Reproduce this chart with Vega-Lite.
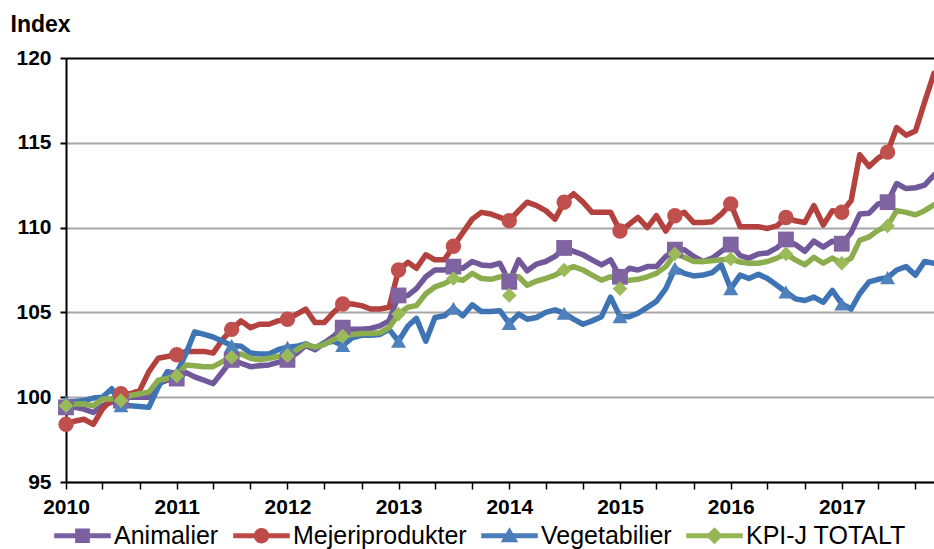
{
  "$schema": "https://vega.github.io/schema/vega-lite/v6.json",
  "width": 868,
  "height": 424,
  "autosize": {"type": "none"},
  "padding": {"left": 66, "top": 58, "right": 0, "bottom": 67},
  "background": "white",
  "config": {"view": {"stroke": null}, "font": "Liberation Sans"},
  "datasets": {
    "lines": [
      {"date":"2010/01/01","series":"Animalier","value":99.4},{"date":"2010/02/01","series":"Animalier","value":99.4},{"date":"2010/03/01","series":"Animalier","value":99.3},{"date":"2010/04/01","series":"Animalier","value":99.1},{"date":"2010/05/01","series":"Animalier","value":99.5},{"date":"2010/06/01","series":"Animalier","value":99.7},{"date":"2010/07/01","series":"Animalier","value":99.8},{"date":"2010/08/01","series":"Animalier","value":100.0},{"date":"2010/09/01","series":"Animalier","value":100.0},{"date":"2010/10/01","series":"Animalier","value":100.0},{"date":"2010/11/01","series":"Animalier","value":100.8},{"date":"2010/12/01","series":"Animalier","value":101.0},
      {"date":"2011/01/01","series":"Animalier","value":101.1},{"date":"2011/02/01","series":"Animalier","value":101.45},{"date":"2011/03/01","series":"Animalier","value":101.2},{"date":"2011/04/01","series":"Animalier","value":101.0},{"date":"2011/05/01","series":"Animalier","value":100.8},{"date":"2011/06/01","series":"Animalier","value":101.5},{"date":"2011/07/01","series":"Animalier","value":102.2},{"date":"2011/08/01","series":"Animalier","value":102.0},{"date":"2011/09/01","series":"Animalier","value":101.8},{"date":"2011/10/01","series":"Animalier","value":101.85},{"date":"2011/11/01","series":"Animalier","value":101.9},{"date":"2011/12/01","series":"Animalier","value":102.05},
      {"date":"2012/01/01","series":"Animalier","value":102.2},{"date":"2012/02/01","series":"Animalier","value":102.6},{"date":"2012/03/01","series":"Animalier","value":103.05},{"date":"2012/04/01","series":"Animalier","value":102.8},{"date":"2012/05/01","series":"Animalier","value":103.2},{"date":"2012/06/01","series":"Animalier","value":103.6},{"date":"2012/07/01","series":"Animalier","value":104.1},{"date":"2012/08/01","series":"Animalier","value":104.0},{"date":"2012/09/01","series":"Animalier","value":104.0},{"date":"2012/10/01","series":"Animalier","value":104.05},{"date":"2012/11/01","series":"Animalier","value":104.2},{"date":"2012/12/01","series":"Animalier","value":104.5},
      {"date":"2013/01/01","series":"Animalier","value":106.0},{"date":"2013/02/01","series":"Animalier","value":106.0},{"date":"2013/03/01","series":"Animalier","value":106.4},{"date":"2013/04/01","series":"Animalier","value":107.1},{"date":"2013/05/01","series":"Animalier","value":107.5},{"date":"2013/06/01","series":"Animalier","value":107.5},{"date":"2013/07/01","series":"Animalier","value":107.7},{"date":"2013/08/01","series":"Animalier","value":107.6},{"date":"2013/09/01","series":"Animalier","value":108.0},{"date":"2013/10/01","series":"Animalier","value":107.8},{"date":"2013/11/01","series":"Animalier","value":107.75},{"date":"2013/12/01","series":"Animalier","value":107.9},
      {"date":"2014/01/01","series":"Animalier","value":106.8},{"date":"2014/02/01","series":"Animalier","value":108.1},{"date":"2014/03/01","series":"Animalier","value":107.45},{"date":"2014/04/01","series":"Animalier","value":107.85},{"date":"2014/05/01","series":"Animalier","value":108.0},{"date":"2014/06/01","series":"Animalier","value":108.3},{"date":"2014/07/01","series":"Animalier","value":108.8},{"date":"2014/08/01","series":"Animalier","value":108.6},{"date":"2014/09/01","series":"Animalier","value":108.4},{"date":"2014/10/01","series":"Animalier","value":108.1},{"date":"2014/11/01","series":"Animalier","value":107.8},{"date":"2014/12/01","series":"Animalier","value":108.1},
      {"date":"2015/01/01","series":"Animalier","value":107.1},{"date":"2015/02/01","series":"Animalier","value":107.6},{"date":"2015/03/01","series":"Animalier","value":107.5},{"date":"2015/04/01","series":"Animalier","value":107.7},{"date":"2015/05/01","series":"Animalier","value":107.7},{"date":"2015/06/01","series":"Animalier","value":108.3},{"date":"2015/07/01","series":"Animalier","value":108.7},{"date":"2015/08/01","series":"Animalier","value":108.7},{"date":"2015/09/01","series":"Animalier","value":108.3},{"date":"2015/10/01","series":"Animalier","value":108.0},{"date":"2015/11/01","series":"Animalier","value":108.2},{"date":"2015/12/01","series":"Animalier","value":108.6},
      {"date":"2016/01/01","series":"Animalier","value":109.0},{"date":"2016/02/01","series":"Animalier","value":108.35},{"date":"2016/03/01","series":"Animalier","value":108.2},{"date":"2016/04/01","series":"Animalier","value":108.45},{"date":"2016/05/01","series":"Animalier","value":108.5},{"date":"2016/06/01","series":"Animalier","value":108.8},{"date":"2016/07/01","series":"Animalier","value":109.3},{"date":"2016/08/01","series":"Animalier","value":109.0},{"date":"2016/09/01","series":"Animalier","value":108.6},{"date":"2016/10/01","series":"Animalier","value":109.2},{"date":"2016/11/01","series":"Animalier","value":108.85},{"date":"2016/12/01","series":"Animalier","value":109.2},
      {"date":"2017/01/01","series":"Animalier","value":109.05},{"date":"2017/02/01","series":"Animalier","value":109.7},{"date":"2017/03/01","series":"Animalier","value":110.8},{"date":"2017/04/01","series":"Animalier","value":110.85},{"date":"2017/05/01","series":"Animalier","value":111.4},{"date":"2017/06/01","series":"Animalier","value":111.5},{"date":"2017/07/01","series":"Animalier","value":112.6},{"date":"2017/08/01","series":"Animalier","value":112.3},{"date":"2017/09/01","series":"Animalier","value":112.35},{"date":"2017/10/01","series":"Animalier","value":112.5},{"date":"2017/11/01","series":"Animalier","value":113.1},

      {"date":"2010/01/01","series":"Mejeriprodukter","value":98.4},{"date":"2010/02/01","series":"Mejeriprodukter","value":98.6},{"date":"2010/03/01","series":"Mejeriprodukter","value":98.7},{"date":"2010/04/01","series":"Mejeriprodukter","value":98.4},{"date":"2010/05/01","series":"Mejeriprodukter","value":99.3},{"date":"2010/06/01","series":"Mejeriprodukter","value":99.9},{"date":"2010/07/01","series":"Mejeriprodukter","value":100.2},{"date":"2010/08/01","series":"Mejeriprodukter","value":100.2},{"date":"2010/09/01","series":"Mejeriprodukter","value":100.4},{"date":"2010/10/01","series":"Mejeriprodukter","value":101.5},{"date":"2010/11/01","series":"Mejeriprodukter","value":102.3},{"date":"2010/12/01","series":"Mejeriprodukter","value":102.4},
      {"date":"2011/01/01","series":"Mejeriprodukter","value":102.5},{"date":"2011/02/01","series":"Mejeriprodukter","value":102.7},{"date":"2011/03/01","series":"Mejeriprodukter","value":102.7},{"date":"2011/04/01","series":"Mejeriprodukter","value":102.7},{"date":"2011/05/01","series":"Mejeriprodukter","value":102.6},{"date":"2011/06/01","series":"Mejeriprodukter","value":103.4},{"date":"2011/07/01","series":"Mejeriprodukter","value":104.0},{"date":"2011/08/01","series":"Mejeriprodukter","value":104.5},{"date":"2011/09/01","series":"Mejeriprodukter","value":104.1},{"date":"2011/10/01","series":"Mejeriprodukter","value":104.3},{"date":"2011/11/01","series":"Mejeriprodukter","value":104.3},{"date":"2011/12/01","series":"Mejeriprodukter","value":104.5},
      {"date":"2012/01/01","series":"Mejeriprodukter","value":104.6},{"date":"2012/02/01","series":"Mejeriprodukter","value":104.9},{"date":"2012/03/01","series":"Mejeriprodukter","value":105.2},{"date":"2012/04/01","series":"Mejeriprodukter","value":104.4},{"date":"2012/05/01","series":"Mejeriprodukter","value":104.4},{"date":"2012/06/01","series":"Mejeriprodukter","value":105.0},{"date":"2012/07/01","series":"Mejeriprodukter","value":105.5},{"date":"2012/08/01","series":"Mejeriprodukter","value":105.5},{"date":"2012/09/01","series":"Mejeriprodukter","value":105.4},{"date":"2012/10/01","series":"Mejeriprodukter","value":105.2},{"date":"2012/11/01","series":"Mejeriprodukter","value":105.2},{"date":"2012/12/01","series":"Mejeriprodukter","value":105.3},
      {"date":"2013/01/01","series":"Mejeriprodukter","value":107.5},{"date":"2013/02/01","series":"Mejeriprodukter","value":107.95},{"date":"2013/03/01","series":"Mejeriprodukter","value":107.6},{"date":"2013/04/01","series":"Mejeriprodukter","value":108.4},{"date":"2013/05/01","series":"Mejeriprodukter","value":108.1},{"date":"2013/06/01","series":"Mejeriprodukter","value":108.1},{"date":"2013/07/01","series":"Mejeriprodukter","value":108.9},{"date":"2013/08/01","series":"Mejeriprodukter","value":109.7},{"date":"2013/09/01","series":"Mejeriprodukter","value":110.5},{"date":"2013/10/01","series":"Mejeriprodukter","value":110.9},{"date":"2013/11/01","series":"Mejeriprodukter","value":110.8},{"date":"2013/12/01","series":"Mejeriprodukter","value":110.6},
      {"date":"2014/01/01","series":"Mejeriprodukter","value":110.4},{"date":"2014/02/01","series":"Mejeriprodukter","value":111.0},{"date":"2014/03/01","series":"Mejeriprodukter","value":111.5},{"date":"2014/04/01","series":"Mejeriprodukter","value":111.3},{"date":"2014/05/01","series":"Mejeriprodukter","value":111.0},{"date":"2014/06/01","series":"Mejeriprodukter","value":110.5},{"date":"2014/07/01","series":"Mejeriprodukter","value":111.5},{"date":"2014/08/01","series":"Mejeriprodukter","value":112.0},{"date":"2014/09/01","series":"Mejeriprodukter","value":111.5},{"date":"2014/10/01","series":"Mejeriprodukter","value":110.9},{"date":"2014/11/01","series":"Mejeriprodukter","value":110.9},{"date":"2014/12/01","series":"Mejeriprodukter","value":110.9},
      {"date":"2015/01/01","series":"Mejeriprodukter","value":109.8},{"date":"2015/02/01","series":"Mejeriprodukter","value":110.2},{"date":"2015/03/01","series":"Mejeriprodukter","value":110.6},{"date":"2015/04/01","series":"Mejeriprodukter","value":110.0},{"date":"2015/05/01","series":"Mejeriprodukter","value":110.7},{"date":"2015/06/01","series":"Mejeriprodukter","value":109.8},{"date":"2015/07/01","series":"Mejeriprodukter","value":110.7},{"date":"2015/08/01","series":"Mejeriprodukter","value":110.9},{"date":"2015/09/01","series":"Mejeriprodukter","value":110.3},{"date":"2015/10/01","series":"Mejeriprodukter","value":110.3},{"date":"2015/11/01","series":"Mejeriprodukter","value":110.35},{"date":"2015/12/01","series":"Mejeriprodukter","value":110.8},
      {"date":"2016/01/01","series":"Mejeriprodukter","value":111.4},{"date":"2016/02/01","series":"Mejeriprodukter","value":110.05},{"date":"2016/03/01","series":"Mejeriprodukter","value":110.05},{"date":"2016/04/01","series":"Mejeriprodukter","value":110.05},{"date":"2016/05/01","series":"Mejeriprodukter","value":109.95},{"date":"2016/06/01","series":"Mejeriprodukter","value":110.1},{"date":"2016/07/01","series":"Mejeriprodukter","value":110.6},{"date":"2016/08/01","series":"Mejeriprodukter","value":110.4},{"date":"2016/09/01","series":"Mejeriprodukter","value":110.3},{"date":"2016/10/01","series":"Mejeriprodukter","value":111.3},{"date":"2016/11/01","series":"Mejeriprodukter","value":110.15},{"date":"2016/12/01","series":"Mejeriprodukter","value":111.0},
      {"date":"2017/01/01","series":"Mejeriprodukter","value":110.9},{"date":"2017/02/01","series":"Mejeriprodukter","value":111.6},{"date":"2017/03/01","series":"Mejeriprodukter","value":114.3},{"date":"2017/04/01","series":"Mejeriprodukter","value":113.6},{"date":"2017/05/01","series":"Mejeriprodukter","value":114.1},{"date":"2017/06/01","series":"Mejeriprodukter","value":114.45},{"date":"2017/07/01","series":"Mejeriprodukter","value":115.9},{"date":"2017/08/01","series":"Mejeriprodukter","value":115.45},{"date":"2017/09/01","series":"Mejeriprodukter","value":115.7},{"date":"2017/10/01","series":"Mejeriprodukter","value":117.4},{"date":"2017/11/01","series":"Mejeriprodukter","value":119.1},

      {"date":"2010/01/01","series":"Vegetabilier","value":99.7},{"date":"2010/02/01","series":"Vegetabilier","value":99.75},{"date":"2010/03/01","series":"Vegetabilier","value":99.8},{"date":"2010/04/01","series":"Vegetabilier","value":99.95},{"date":"2010/05/01","series":"Vegetabilier","value":100.0},{"date":"2010/06/01","series":"Vegetabilier","value":100.5},{"date":"2010/07/01","series":"Vegetabilier","value":99.5},{"date":"2010/08/01","series":"Vegetabilier","value":99.5},{"date":"2010/09/01","series":"Vegetabilier","value":99.45},{"date":"2010/10/01","series":"Vegetabilier","value":99.4},{"date":"2010/11/01","series":"Vegetabilier","value":100.6},{"date":"2010/12/01","series":"Vegetabilier","value":101.5},
      {"date":"2011/01/01","series":"Vegetabilier","value":101.4},{"date":"2011/02/01","series":"Vegetabilier","value":102.6},{"date":"2011/03/01","series":"Vegetabilier","value":103.85},{"date":"2011/04/01","series":"Vegetabilier","value":103.7},{"date":"2011/05/01","series":"Vegetabilier","value":103.55},{"date":"2011/06/01","series":"Vegetabilier","value":103.3},{"date":"2011/07/01","series":"Vegetabilier","value":103.05},{"date":"2011/08/01","series":"Vegetabilier","value":103.0},{"date":"2011/09/01","series":"Vegetabilier","value":102.6},{"date":"2011/10/01","series":"Vegetabilier","value":102.55},{"date":"2011/11/01","series":"Vegetabilier","value":102.55},{"date":"2011/12/01","series":"Vegetabilier","value":102.8},
      {"date":"2012/01/01","series":"Vegetabilier","value":102.95},{"date":"2012/02/01","series":"Vegetabilier","value":103.0},{"date":"2012/03/01","series":"Vegetabilier","value":103.15},{"date":"2012/04/01","series":"Vegetabilier","value":102.9},{"date":"2012/05/01","series":"Vegetabilier","value":103.2},{"date":"2012/06/01","series":"Vegetabilier","value":103.3},{"date":"2012/07/01","series":"Vegetabilier","value":103.05},{"date":"2012/08/01","series":"Vegetabilier","value":103.5},{"date":"2012/09/01","series":"Vegetabilier","value":103.65},{"date":"2012/10/01","series":"Vegetabilier","value":103.65},{"date":"2012/11/01","series":"Vegetabilier","value":103.7},{"date":"2012/12/01","series":"Vegetabilier","value":104.0},
      {"date":"2013/01/01","series":"Vegetabilier","value":103.3},{"date":"2013/02/01","series":"Vegetabilier","value":104.2},{"date":"2013/03/01","series":"Vegetabilier","value":104.65},{"date":"2013/04/01","series":"Vegetabilier","value":103.3},{"date":"2013/05/01","series":"Vegetabilier","value":104.7},{"date":"2013/06/01","series":"Vegetabilier","value":104.8},{"date":"2013/07/01","series":"Vegetabilier","value":105.25},{"date":"2013/08/01","series":"Vegetabilier","value":104.8},{"date":"2013/09/01","series":"Vegetabilier","value":105.45},{"date":"2013/10/01","series":"Vegetabilier","value":105.05},{"date":"2013/11/01","series":"Vegetabilier","value":105.05},{"date":"2013/12/01","series":"Vegetabilier","value":105.1},
      {"date":"2014/01/01","series":"Vegetabilier","value":104.35},{"date":"2014/02/01","series":"Vegetabilier","value":104.9},{"date":"2014/03/01","series":"Vegetabilier","value":104.6},{"date":"2014/04/01","series":"Vegetabilier","value":104.7},{"date":"2014/05/01","series":"Vegetabilier","value":105.0},{"date":"2014/06/01","series":"Vegetabilier","value":105.15},{"date":"2014/07/01","series":"Vegetabilier","value":104.95},{"date":"2014/08/01","series":"Vegetabilier","value":104.6},{"date":"2014/09/01","series":"Vegetabilier","value":104.3},{"date":"2014/10/01","series":"Vegetabilier","value":104.5},{"date":"2014/11/01","series":"Vegetabilier","value":104.75},{"date":"2014/12/01","series":"Vegetabilier","value":105.9},
      {"date":"2015/01/01","series":"Vegetabilier","value":104.75},{"date":"2015/02/01","series":"Vegetabilier","value":104.75},{"date":"2015/03/01","series":"Vegetabilier","value":104.95},{"date":"2015/04/01","series":"Vegetabilier","value":105.3},{"date":"2015/05/01","series":"Vegetabilier","value":105.65},{"date":"2015/06/01","series":"Vegetabilier","value":106.4},{"date":"2015/07/01","series":"Vegetabilier","value":107.6},{"date":"2015/08/01","series":"Vegetabilier","value":107.3},{"date":"2015/09/01","series":"Vegetabilier","value":107.15},{"date":"2015/10/01","series":"Vegetabilier","value":107.2},{"date":"2015/11/01","series":"Vegetabilier","value":107.35},{"date":"2015/12/01","series":"Vegetabilier","value":107.8},
      {"date":"2016/01/01","series":"Vegetabilier","value":106.4},{"date":"2016/02/01","series":"Vegetabilier","value":107.2},{"date":"2016/03/01","series":"Vegetabilier","value":107.0},{"date":"2016/04/01","series":"Vegetabilier","value":107.25},{"date":"2016/05/01","series":"Vegetabilier","value":107.0},{"date":"2016/06/01","series":"Vegetabilier","value":106.6},{"date":"2016/07/01","series":"Vegetabilier","value":106.2},{"date":"2016/08/01","series":"Vegetabilier","value":105.8},{"date":"2016/09/01","series":"Vegetabilier","value":105.7},{"date":"2016/10/01","series":"Vegetabilier","value":105.9},{"date":"2016/11/01","series":"Vegetabilier","value":105.6},{"date":"2016/12/01","series":"Vegetabilier","value":106.3},
      {"date":"2017/01/01","series":"Vegetabilier","value":105.5},{"date":"2017/02/01","series":"Vegetabilier","value":105.2},{"date":"2017/03/01","series":"Vegetabilier","value":106.1},{"date":"2017/04/01","series":"Vegetabilier","value":106.8},{"date":"2017/05/01","series":"Vegetabilier","value":106.95},{"date":"2017/06/01","series":"Vegetabilier","value":107.05},{"date":"2017/07/01","series":"Vegetabilier","value":107.5},{"date":"2017/08/01","series":"Vegetabilier","value":107.7},{"date":"2017/09/01","series":"Vegetabilier","value":107.2},{"date":"2017/10/01","series":"Vegetabilier","value":108.0},{"date":"2017/11/01","series":"Vegetabilier","value":107.9},

      {"date":"2010/01/01","series":"KPI-J TOTALT","value":99.5},{"date":"2010/02/01","series":"KPI-J TOTALT","value":99.6},{"date":"2010/03/01","series":"KPI-J TOTALT","value":99.6},{"date":"2010/04/01","series":"KPI-J TOTALT","value":99.5},{"date":"2010/05/01","series":"KPI-J TOTALT","value":99.9},{"date":"2010/06/01","series":"KPI-J TOTALT","value":99.9},{"date":"2010/07/01","series":"KPI-J TOTALT","value":99.8},{"date":"2010/08/01","series":"KPI-J TOTALT","value":100.1},{"date":"2010/09/01","series":"KPI-J TOTALT","value":100.2},{"date":"2010/10/01","series":"KPI-J TOTALT","value":100.3},{"date":"2010/11/01","series":"KPI-J TOTALT","value":101.0},{"date":"2010/12/01","series":"KPI-J TOTALT","value":101.1},
      {"date":"2011/01/01","series":"KPI-J TOTALT","value":101.25},{"date":"2011/02/01","series":"KPI-J TOTALT","value":101.9},{"date":"2011/03/01","series":"KPI-J TOTALT","value":101.85},{"date":"2011/04/01","series":"KPI-J TOTALT","value":101.8},{"date":"2011/05/01","series":"KPI-J TOTALT","value":101.8},{"date":"2011/06/01","series":"KPI-J TOTALT","value":102.1},{"date":"2011/07/01","series":"KPI-J TOTALT","value":102.35},{"date":"2011/08/01","series":"KPI-J TOTALT","value":102.55},{"date":"2011/09/01","series":"KPI-J TOTALT","value":102.3},{"date":"2011/10/01","series":"KPI-J TOTALT","value":102.2},{"date":"2011/11/01","series":"KPI-J TOTALT","value":102.3},{"date":"2011/12/01","series":"KPI-J TOTALT","value":102.4},
      {"date":"2012/01/01","series":"KPI-J TOTALT","value":102.45},{"date":"2012/02/01","series":"KPI-J TOTALT","value":102.8},{"date":"2012/03/01","series":"KPI-J TOTALT","value":103.1},{"date":"2012/04/01","series":"KPI-J TOTALT","value":102.95},{"date":"2012/05/01","series":"KPI-J TOTALT","value":103.1},{"date":"2012/06/01","series":"KPI-J TOTALT","value":103.4},{"date":"2012/07/01","series":"KPI-J TOTALT","value":103.6},{"date":"2012/08/01","series":"KPI-J TOTALT","value":103.7},{"date":"2012/09/01","series":"KPI-J TOTALT","value":103.75},{"date":"2012/10/01","series":"KPI-J TOTALT","value":103.75},{"date":"2012/11/01","series":"KPI-J TOTALT","value":103.8},{"date":"2012/12/01","series":"KPI-J TOTALT","value":104.1},
      {"date":"2013/01/01","series":"KPI-J TOTALT","value":104.9},{"date":"2013/02/01","series":"KPI-J TOTALT","value":105.3},{"date":"2013/03/01","series":"KPI-J TOTALT","value":105.4},{"date":"2013/04/01","series":"KPI-J TOTALT","value":106.1},{"date":"2013/05/01","series":"KPI-J TOTALT","value":106.5},{"date":"2013/06/01","series":"KPI-J TOTALT","value":106.7},{"date":"2013/07/01","series":"KPI-J TOTALT","value":107.0},{"date":"2013/08/01","series":"KPI-J TOTALT","value":106.9},{"date":"2013/09/01","series":"KPI-J TOTALT","value":107.3},{"date":"2013/10/01","series":"KPI-J TOTALT","value":107.0},{"date":"2013/11/01","series":"KPI-J TOTALT","value":106.95},{"date":"2013/12/01","series":"KPI-J TOTALT","value":107.1},
      {"date":"2014/01/01","series":"KPI-J TOTALT","value":107.15},{"date":"2014/02/01","series":"KPI-J TOTALT","value":107.1},{"date":"2014/03/01","series":"KPI-J TOTALT","value":106.6},{"date":"2014/04/01","series":"KPI-J TOTALT","value":106.85},{"date":"2014/05/01","series":"KPI-J TOTALT","value":107.0},{"date":"2014/06/01","series":"KPI-J TOTALT","value":107.2},{"date":"2014/07/01","series":"KPI-J TOTALT","value":107.5},{"date":"2014/08/01","series":"KPI-J TOTALT","value":107.7},{"date":"2014/09/01","series":"KPI-J TOTALT","value":107.5},{"date":"2014/10/01","series":"KPI-J TOTALT","value":107.2},{"date":"2014/11/01","series":"KPI-J TOTALT","value":106.9},{"date":"2014/12/01","series":"KPI-J TOTALT","value":107.1},
      {"date":"2015/01/01","series":"KPI-J TOTALT","value":106.9},{"date":"2015/02/01","series":"KPI-J TOTALT","value":106.9},{"date":"2015/03/01","series":"KPI-J TOTALT","value":106.95},{"date":"2015/04/01","series":"KPI-J TOTALT","value":107.1},{"date":"2015/05/01","series":"KPI-J TOTALT","value":107.3},{"date":"2015/06/01","series":"KPI-J TOTALT","value":107.7},{"date":"2015/07/01","series":"KPI-J TOTALT","value":108.45},{"date":"2015/08/01","series":"KPI-J TOTALT","value":108.25},{"date":"2015/09/01","series":"KPI-J TOTALT","value":108.0},{"date":"2015/10/01","series":"KPI-J TOTALT","value":108.0},{"date":"2015/11/01","series":"KPI-J TOTALT","value":108.05},{"date":"2015/12/01","series":"KPI-J TOTALT","value":108.1},
      {"date":"2016/01/01","series":"KPI-J TOTALT","value":108.15},{"date":"2016/02/01","series":"KPI-J TOTALT","value":107.97},{"date":"2016/03/01","series":"KPI-J TOTALT","value":107.9},{"date":"2016/04/01","series":"KPI-J TOTALT","value":107.9},{"date":"2016/05/01","series":"KPI-J TOTALT","value":108.0},{"date":"2016/06/01","series":"KPI-J TOTALT","value":108.2},{"date":"2016/07/01","series":"KPI-J TOTALT","value":108.45},{"date":"2016/08/01","series":"KPI-J TOTALT","value":108.1},{"date":"2016/09/01","series":"KPI-J TOTALT","value":107.8},{"date":"2016/10/01","series":"KPI-J TOTALT","value":108.25},{"date":"2016/11/01","series":"KPI-J TOTALT","value":107.9},{"date":"2016/12/01","series":"KPI-J TOTALT","value":108.2},
      {"date":"2017/01/01","series":"KPI-J TOTALT","value":107.9},{"date":"2017/02/01","series":"KPI-J TOTALT","value":108.2},{"date":"2017/03/01","series":"KPI-J TOTALT","value":109.25},{"date":"2017/04/01","series":"KPI-J TOTALT","value":109.45},{"date":"2017/05/01","series":"KPI-J TOTALT","value":109.85},{"date":"2017/06/01","series":"KPI-J TOTALT","value":110.1},{"date":"2017/07/01","series":"KPI-J TOTALT","value":111.0},{"date":"2017/08/01","series":"KPI-J TOTALT","value":110.9},{"date":"2017/09/01","series":"KPI-J TOTALT","value":110.75},{"date":"2017/10/01","series":"KPI-J TOTALT","value":111.0},{"date":"2017/11/01","series":"KPI-J TOTALT","value":111.35}
    ],
    "markers": [
      {"date":"2010/01/01","series":"Animalier","value":99.4},{"date":"2010/07/01","series":"Animalier","value":99.8},{"date":"2011/01/01","series":"Animalier","value":101.1},{"date":"2011/07/01","series":"Animalier","value":102.2},{"date":"2012/01/01","series":"Animalier","value":102.2},{"date":"2012/07/01","series":"Animalier","value":104.1},{"date":"2013/01/01","series":"Animalier","value":106.0},{"date":"2013/07/01","series":"Animalier","value":107.7},{"date":"2014/01/01","series":"Animalier","value":106.8},{"date":"2014/07/01","series":"Animalier","value":108.8},{"date":"2015/01/01","series":"Animalier","value":107.1},{"date":"2015/07/01","series":"Animalier","value":108.7},{"date":"2016/01/01","series":"Animalier","value":109.0},{"date":"2016/07/01","series":"Animalier","value":109.3},{"date":"2017/01/01","series":"Animalier","value":109.05},{"date":"2017/06/01","series":"Animalier","value":111.5},
      {"date":"2010/01/01","series":"Mejeriprodukter","value":98.4},{"date":"2010/07/01","series":"Mejeriprodukter","value":100.2},{"date":"2011/01/01","series":"Mejeriprodukter","value":102.5},{"date":"2011/07/01","series":"Mejeriprodukter","value":104.0},{"date":"2012/01/01","series":"Mejeriprodukter","value":104.6},{"date":"2012/07/01","series":"Mejeriprodukter","value":105.5},{"date":"2013/01/01","series":"Mejeriprodukter","value":107.5},{"date":"2013/07/01","series":"Mejeriprodukter","value":108.9},{"date":"2014/01/01","series":"Mejeriprodukter","value":110.4},{"date":"2014/07/01","series":"Mejeriprodukter","value":111.5},{"date":"2015/01/01","series":"Mejeriprodukter","value":109.8},{"date":"2015/07/01","series":"Mejeriprodukter","value":110.7},{"date":"2016/01/01","series":"Mejeriprodukter","value":111.4},{"date":"2016/07/01","series":"Mejeriprodukter","value":110.6},{"date":"2017/01/01","series":"Mejeriprodukter","value":110.9},{"date":"2017/06/01","series":"Mejeriprodukter","value":114.45},
      {"date":"2010/01/01","series":"Vegetabilier","value":99.7},{"date":"2010/07/01","series":"Vegetabilier","value":99.5},{"date":"2011/01/01","series":"Vegetabilier","value":101.4},{"date":"2011/07/01","series":"Vegetabilier","value":103.05},{"date":"2012/01/01","series":"Vegetabilier","value":102.95},{"date":"2012/07/01","series":"Vegetabilier","value":103.05},{"date":"2013/01/01","series":"Vegetabilier","value":103.3},{"date":"2013/07/01","series":"Vegetabilier","value":105.25},{"date":"2014/01/01","series":"Vegetabilier","value":104.35},{"date":"2014/07/01","series":"Vegetabilier","value":104.95},{"date":"2015/01/01","series":"Vegetabilier","value":104.75},{"date":"2015/07/01","series":"Vegetabilier","value":107.6},{"date":"2016/01/01","series":"Vegetabilier","value":106.4},{"date":"2016/07/01","series":"Vegetabilier","value":106.2},{"date":"2017/01/01","series":"Vegetabilier","value":105.5},{"date":"2017/06/01","series":"Vegetabilier","value":107.05},
      {"date":"2010/01/01","series":"KPI-J TOTALT","value":99.5},{"date":"2010/07/01","series":"KPI-J TOTALT","value":99.8},{"date":"2011/01/01","series":"KPI-J TOTALT","value":101.25},{"date":"2011/07/01","series":"KPI-J TOTALT","value":102.35},{"date":"2012/01/01","series":"KPI-J TOTALT","value":102.45},{"date":"2012/07/01","series":"KPI-J TOTALT","value":103.6},{"date":"2013/01/01","series":"KPI-J TOTALT","value":104.9},{"date":"2013/07/01","series":"KPI-J TOTALT","value":107.0},{"date":"2014/01/01","series":"KPI-J TOTALT","value":106.0},{"date":"2014/07/01","series":"KPI-J TOTALT","value":107.5},{"date":"2015/01/01","series":"KPI-J TOTALT","value":106.4},{"date":"2015/07/01","series":"KPI-J TOTALT","value":108.45},{"date":"2016/01/01","series":"KPI-J TOTALT","value":108.15},{"date":"2016/07/01","series":"KPI-J TOTALT","value":108.45},{"date":"2017/01/01","series":"KPI-J TOTALT","value":107.9},{"date":"2017/06/01","series":"KPI-J TOTALT","value":110.1}
    ]
  },
  "encoding": {
    "x": {
      "field": "date", "type": "temporal",
      "scale": {"domain": [{"year": 2010, "month": 1, "date": 1}, {"year": 2017, "month": 11, "date": 1}]},
      "axis": {
        "title": null, "grid": false,
        "values": [
          {"year":2010,"month":1,"date":1},{"year":2010,"month":5,"date":1},{"year":2010,"month":9,"date":1},
          {"year":2011,"month":1,"date":1},{"year":2011,"month":5,"date":1},{"year":2011,"month":9,"date":1},
          {"year":2012,"month":1,"date":1},{"year":2012,"month":5,"date":1},{"year":2012,"month":9,"date":1},
          {"year":2013,"month":1,"date":1},{"year":2013,"month":5,"date":1},{"year":2013,"month":9,"date":1},
          {"year":2014,"month":1,"date":1},{"year":2014,"month":5,"date":1},{"year":2014,"month":9,"date":1},
          {"year":2015,"month":1,"date":1},{"year":2015,"month":5,"date":1},{"year":2015,"month":9,"date":1},
          {"year":2016,"month":1,"date":1},{"year":2016,"month":5,"date":1},{"year":2016,"month":9,"date":1},
          {"year":2017,"month":1,"date":1},{"year":2017,"month":5,"date":1},{"year":2017,"month":9,"date":1}
        ],
        "labelExpr": "month(datum.value) === 0 ? timeFormat(datum.value, '%Y') : ''",
        "labelFont": "Liberation Sans", "labelFontSize": 21, "labelFontWeight": "bold", "labelColor": "black",
        "labelPadding": 7, "labelOverlap": false, "labelFlush": false,
        "tickColor": "black", "tickSize": 7, "tickWidth": 1.5,
        "domainColor": "black", "domainWidth": 2
      }
    },
    "y": {
      "field": "value", "type": "quantitative",
      "scale": {"domain": [95, 120], "nice": false, "zero": false},
      "axis": {
        "values": [95, 100, 105, 110, 115, 120],
        "title": "Index", "titleAngle": 0, "titleAlign": "left", "titleBaseline": "alphabetic",
        "titleX": -56, "titleY": -27, "titleFont": "Liberation Sans", "titleFontSize": 23, "titleFontWeight": "bold", "titleColor": "black",
        "labelFont": "Liberation Sans", "labelFontSize": 21, "labelFontWeight": "bold", "labelColor": "black", "labelPadding": 9,
        "tickColor": "black", "tickSize": 6, "tickWidth": 2,
        "domainColor": "black", "domainWidth": 2,
        "grid": true, "gridWidth": 2,
        "gridColor": {"condition": {"test": "datum.value === 120", "value": "black"}, "value": "#A6A6A6"}
      }
    }
  },
  "layer": [
    {
      "data": {"name": "lines"},
      "mark": {"type": "line", "strokeWidth": 5.5, "strokeJoin": "round", "strokeCap": "round"},
      "encoding": {
        "color": {
          "field": "series", "type": "nominal",
          "scale": {"domain": ["Animalier", "Mejeriprodukter", "Vegetabilier", "KPI-J TOTALT"], "range": ["#71589B", "#B3413D", "#3E74B3", "#8CAD4E"]},
          "legend": null
        }
      }
    },
    {
      "data": {"name": "markers"},
      "mark": {"type": "point", "filled": true, "opacity": 1, "strokeWidth": 0},
      "encoding": {
        "shape": {
          "field": "series", "type": "nominal",
          "scale": {"domain": ["Animalier", "Mejeriprodukter", "Vegetabilier", "KPI-J TOTALT"], "range": ["square", "circle", "triangle-up", "diamond"]},
          "legend": null
        },
        "size": {
          "field": "series", "type": "nominal",
          "scale": {"domain": ["Animalier", "Mejeriprodukter", "Vegetabilier", "KPI-J TOTALT"], "range": [250, 215, 280, 300]},
          "legend": null
        },
        "color": {
          "field": "series", "type": "nominal",
          "scale": {"domain": ["Animalier", "Mejeriprodukter", "Vegetabilier", "KPI-J TOTALT"], "range": ["#8064A2", "#C0504D", "#4F81BD", "#9BBB59"]},
          "legend": null
        }
      }
    },
    {
      "data": {"name": "lines"},
      "transform": [{"filter": "false"}],
      "mark": {"type": "point", "filled": true, "opacity": 1, "strokeWidth": 0, "size": 3200},
      "encoding": {
        "shape": {
          "field": "series", "type": "nominal",
          "scale": {"domain": ["Animalier", "Mejeriprodukter", "Vegetabilier", "KPI-J TOTALT"], "range": [
            "M-1,-0.09H1V0.09H-1Z M-0.26,-0.26H0.26V0.26H-0.26Z",
            "M-1,-0.09H1V0.09H-1Z M-0.27,0A0.27,0.27 0 1,1 0.27,0A0.27,0.27 0 1,1 -0.27,0Z",
            "M-1,-0.09H1V0.09H-1Z M0,-0.3L0.31,0.23H-0.31Z",
            "M-1,-0.09H1V0.09H-1Z M0,-0.3L0.3,0L0,0.3L-0.3,0Z"
          ]},
          "legend": {
            "title": null, "orient": "none", "direction": "horizontal",
            "legendX": -12, "legendY": 449,
            "symbolSize": 3200, "symbolStrokeWidth": 0,
            "labelFont": "Liberation Sans", "labelFontSize": 25, "labelColor": "black", "labelOffset": 3, "labelLimit": 0,
            "columnPadding": 14
          }
        },
        "color": {
          "field": "series", "type": "nominal",
          "scale": {"domain": ["Animalier", "Mejeriprodukter", "Vegetabilier", "KPI-J TOTALT"], "range": ["#7A60A0", "#BC4B48", "#4A7DBA", "#95B655"]},
          "legend": {
            "title": null, "orient": "none", "direction": "horizontal",
            "legendX": -12, "legendY": 449,
            "symbolSize": 3200, "symbolStrokeWidth": 0,
            "labelFont": "Liberation Sans", "labelFontSize": 25, "labelColor": "black", "labelOffset": 3, "labelLimit": 0,
            "columnPadding": 14
          }
        }
      }
    }
  ],
  "resolve": {"scale": {"color": "independent", "shape": "independent", "size": "independent"}}
}
